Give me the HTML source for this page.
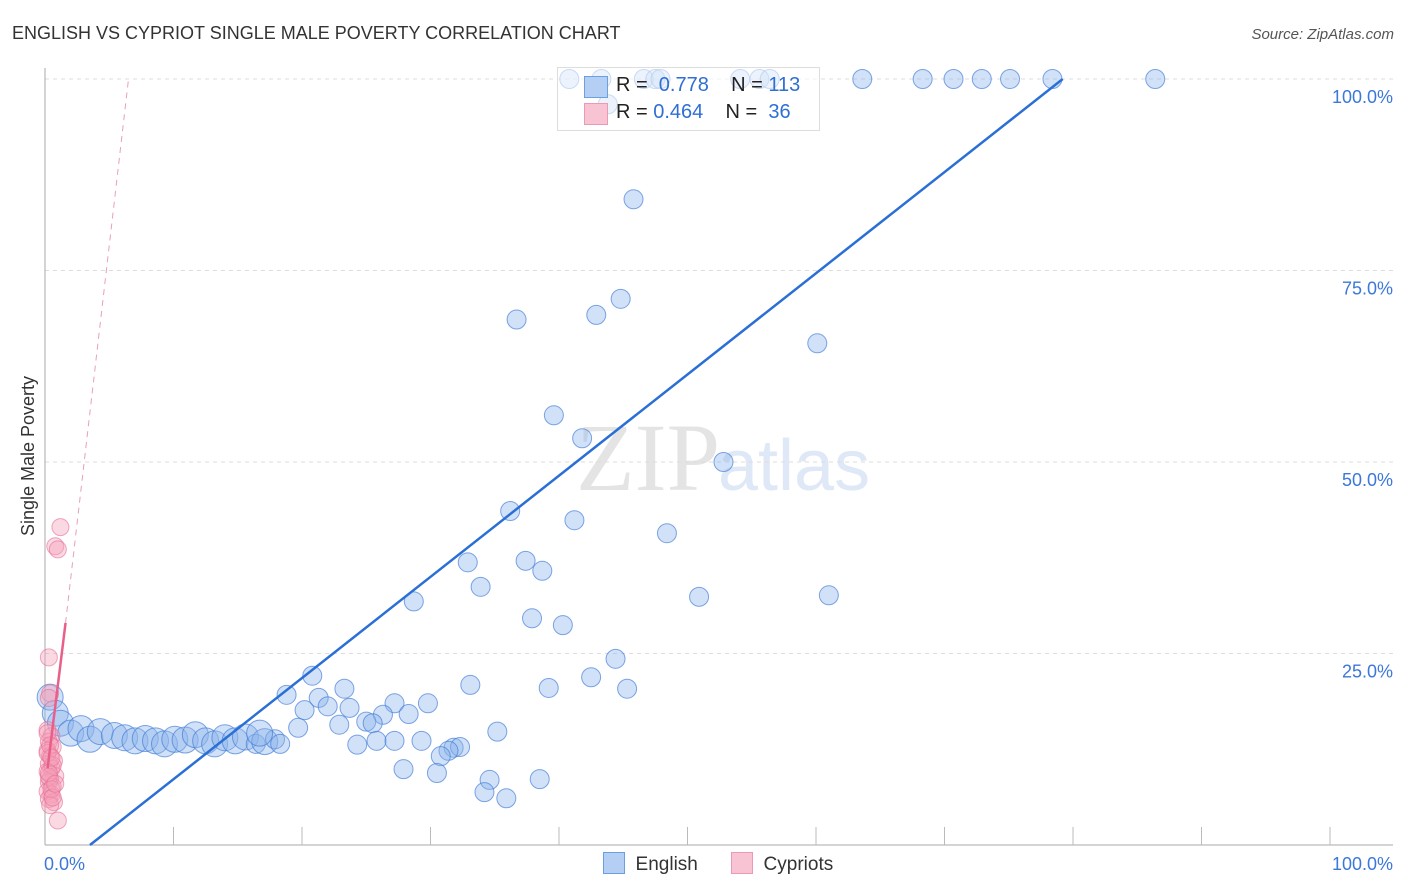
<!DOCTYPE html>
<html><head><meta charset="utf-8">
<style>
body{margin:0;background:#fff;font-family:"Liberation Sans",sans-serif;}
#wrap{position:relative;width:1406px;height:892px;overflow:hidden;}
</style></head>
<body>
<div id="wrap">
<svg id="chart" width="1406" height="892" xmlns="http://www.w3.org/2000/svg">
<text x="12" y="39" font-size="18" fill="#333">ENGLISH VS CYPRIOT SINGLE MALE POVERTY CORRELATION CHART</text>
<text x="1394" y="39" font-size="15" fill="#555" font-style="italic" text-anchor="end">Source: ZipAtlas.com</text>
<text x="0" y="0" transform="translate(34,456) rotate(-90)" font-size="18" fill="#333" text-anchor="middle">Single Male Poverty</text>
<text x="720" y="490" font-size="96" fill="#e4e4e4" font-family="Liberation Serif,serif" text-anchor="end">ZIP</text>
<text x="718" y="490" font-size="72" fill="#dfe8f6">atlas</text>
<g id="grid"></g><g id="axes"></g><g id="marks"></g><g id="lines"></g>
</svg>
</div>
<script>
const yTicks=[25,50,75,100];
const yTickLabels=["25.0%","50.0%","75.0%","100.0%"];
const xTickLabels=["0.0%","100.0%"];
const englishX=[40.8,43.3,46.6,47.5,47.9,54.1,55.6,56.4,63.6,68.3,70.7,72.9,75.1,78.4,86.4,43.8,
45.8,36.7,42.9,44.8,60.1,39.6,41.8,52.8,36.2,41.2,48.4,32.9,37.4,38.7,33.9,28.7,50.9,61.0,37.9,40.3,44.4,20.8,42.5,33.1,23.3,39.2,45.3,18.8,21.3,27.2,29.8,20.2,22.0,23.7,26.3,28.3,22.9,25.0,25.5,19.7,35.2,24.3,25.8,27.2,29.3,31.8,32.3,31.4,30.8,27.9,30.5,34.6,38.5,34.2,35.9,
0.4,0.8,1.2,2.0,2.8,3.5,4.3,5.4,6.2,7.0,7.8,8.6,9.3,10.1,10.9,11.7,12.5,13.2,14.0,14.8,15.6,16.4,17.1,17.9,18.3,16.7];
const englishY=[100,100,100,100,100,100,100,100,100,100,100,100,100,100,100,96.7,
84.3,68.6,69.2,71.3,65.5,56.1,53.1,50,43.6,42.4,40.7,36.9,37.1,35.8,33.7,31.8,32.4,32.6,29.6,28.7,24.3,22.1,21.9,20.9,20.4,20.5,20.4,19.6,19.2,18.5,18.5,17.6,18.1,17.9,17.0,17.1,15.7,16.1,15.9,15.3,14.8,13.1,13.6,13.6,13.6,12.7,12.8,12.3,11.6,9.9,9.4,8.5,8.6,6.9,6.1,
19.3,17.2,15.9,14.6,15.2,13.8,14.8,14.3,14.0,13.6,13.9,13.6,13.2,13.8,13.7,14.4,13.6,13.2,14.0,13.6,14.1,13.2,13.5,13.8,13.2,14.6];
const englishBig=[0,0,0,0,0,0,0,0,0,0,0,0,0,0,0,0,0,0,0,0,0,0,0,0,0,0,0,0,0,0,0,0,0,0,0,0,0,0,0,0,0,0,0,0,0,0,0,0,0,0,0,0,0,0,0,0,0,0,0,0,0,0,0,0,0,0,0,0,0,0,0,
1,1,1,1,1,1,1,1,1,1,1,1,1,1,1,1,1,1,1,1,1,0,1,0,0,1];
const cypriotX=[1.2,0.8,1.0,0.3,0.4,0.3,0.2,0.5,0.3,0.6,0.2,0.4,0.7,0.3,0.5,0.2,0.8,0.4,0.3,0.6,0.2,0.5,0.3,0.7,0.4,0.2,0.6,0.3,0.5,0.2,0.4,1.0,0.6,0.3,0.5,0.8];
const cypriotY=[41.5,39.0,38.6,24.5,19.8,19.2,15.0,14.2,13.5,12.8,12.3,11.6,11.0,10.6,10.0,9.6,9.0,8.6,8.2,7.6,7.0,6.6,6.0,5.6,5.2,12.0,10.4,8.9,7.3,14.6,13.0,3.2,6.2,9.4,11.4,8.0];
const englishTrend=[3.5,0,79.2,100];
const cypriotTrend=[0.2,10,1.6,29,6.5,100];

const NS="http://www.w3.org/2000/svg";
const X0=45,X1=1330,Y0=845,Y100=79;
const xs=v=>X0+(X1-X0)*v/100;
const ys=v=>Y0-(Y0-Y100)*v/100;
function mk(tag,attrs,parent){const e=document.createElementNS(NS,tag);for(const k in attrs)e.setAttribute(k,attrs[k]);parent.appendChild(e);return e;}
const grid=document.getElementById('grid'),axes=document.getElementById('axes'),marks=document.getElementById('marks'),lines=document.getElementById('lines');
yTicks.forEach((t,i)=>{
 const g=mk('line',{x1:X0,x2:1393,y1:ys(t),y2:ys(t),stroke:'#ddd','stroke-dasharray':'4,4'},grid);
 
 
 const tx=mk('text',{x:1393,y:ys(t)+24,'font-size':18,fill:'#3b78d8','text-anchor':'end'},axes);
 tx.textContent=yTickLabels[i];
 
 
});
let a=mk('line',{x1:X0,x2:X0,y1:68,y2:Y0,stroke:'#aaa'},axes);


a=mk('line',{x1:X0,x2:1393,y1:Y0,y2:Y0,stroke:'#aaa'},axes);


for(let i=1;i<=10;i++){const t=mk('line',{x1:X0+i*128.5,x2:X0+i*128.5,y1:827,y2:Y0,stroke:'#bbb'},axes);
 
 }
[[44,'start'],[1393,'end']].forEach((p,i)=>{const t=mk('text',{x:p[0],y:870,'font-size':18,fill:'#3b78d8','text-anchor':p[1]},axes);t.textContent=xTickLabels[i];
 
 });
englishX.forEach((v,i)=>{const c=mk('circle',{cx:xs(v),cy:ys(englishY[i]),r:englishBig[i]?13:9.5,fill:'rgba(140,180,235,0.4)',stroke:'rgba(60,120,215,0.65)','stroke-width':1},marks);
 
 });
cypriotX.forEach((v,i)=>{const c=mk('circle',{cx:xs(v),cy:ys(cypriotY[i]),r:8.5,fill:'rgba(245,160,185,0.4)',stroke:'rgba(230,110,150,0.6)','stroke-width':1},marks);
 
 });
let l=mk('line',{x1:xs(englishTrend[0]),y1:ys(englishTrend[1]),x2:xs(englishTrend[2]),y2:ys(englishTrend[3]),stroke:'#2a6fd6','stroke-width':2.5},lines);


l=mk('line',{x1:xs(cypriotTrend[0]),y1:ys(cypriotTrend[1]),x2:xs(cypriotTrend[2]),y2:ys(cypriotTrend[3]),stroke:'#e8608a','stroke-width':2.5},lines);


l=mk('line',{x1:xs(cypriotTrend[2]),y1:ys(cypriotTrend[3]),x2:xs(cypriotTrend[4]),y2:ys(cypriotTrend[5]),stroke:'#e8a0b8','stroke-width':1,'stroke-dasharray':'6,5'},lines);


</script>
<div style="position:absolute;left:557px;top:67px;width:261px;height:62px;border:1px solid #ddd;background:rgba(255,255,255,0.6);font-size:20px;color:#222;">
 <div style="position:absolute;left:26px;top:8px;width:22px;height:20px;background:#b4cff3;border:1px solid #6a9fe0;"></div>
 <div style="position:absolute;left:58px;top:6px;">R = <span style="color:#2f6fd3">&nbsp;0.778</span>&nbsp;&nbsp;&nbsp; N = <span style="color:#2f6fd3">113</span></div>
 <div style="position:absolute;left:26px;top:35px;width:22px;height:20px;background:#f8c4d4;border:1px solid #ea9ab4;"></div>
 <div style="position:absolute;left:58px;top:33px;">R = <span style="color:#2f6fd3">0.464</span>&nbsp;&nbsp;&nbsp; N = <span style="color:#2f6fd3">&nbsp;36</span></div>
</div>
<div style="position:absolute;left:603px;top:852px;font-size:19px;color:#333;">
 <span style="position:absolute;left:0;top:0;white-space:nowrap;"><span style="display:inline-block;width:20px;height:20px;background:#b4cff3;border:1px solid #6a9fe0;vertical-align:-4px;"></span>&nbsp; English</span>
 <span style="position:absolute;left:128px;top:0;white-space:nowrap;"><span style="display:inline-block;width:20px;height:20px;background:#f8c4d4;border:1px solid #ea9ab4;vertical-align:-4px;"></span>&nbsp; Cypriots</span>
</div>
</body></html>
